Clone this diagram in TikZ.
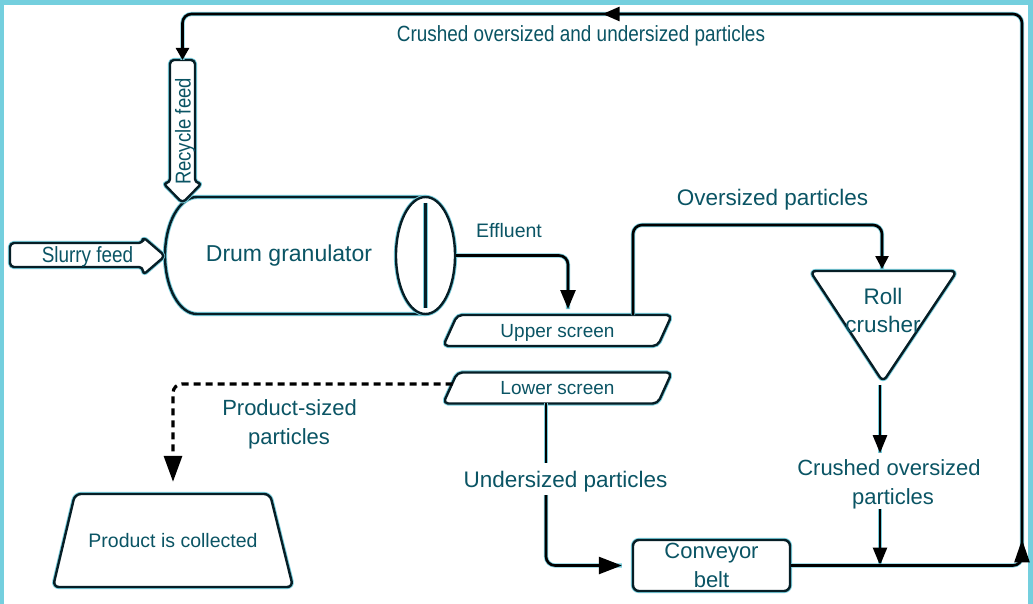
\documentclass[tikz,border=0pt]{standalone}
\usepackage{fontspec}
\setmainfont{Liberation Sans}
\newfontfamily\narrowsf{Liberation Sans}[FakeStretch=0.86]
\usetikzlibrary{arrows.meta,calc,shapes.geometric,decorations.markings}

\definecolor{framecyan}{RGB}{116,207,222}
\definecolor{ink}{RGB}{10,84,100}
\definecolor{edge}{RGB}{6,30,38}
\definecolor{halo}{RGB}{120,205,220}

\begin{document}
\begin{tikzpicture}[x=1pt,y=-1pt,
  glow/.style={preaction={draw=halo,line width=#1,line join=round,arrows=-}},
  outline/.style={draw=edge,line width=2.4pt,line join=round,glow=4.2pt},
  box/.style={outline,fill=white,rounded corners=5pt},
  flow/.style={draw=black,line width=2.6pt,rounded corners=9pt,glow=4.2pt},
  dashflow/.style={draw=black,line width=3.2pt,rounded corners=9pt,dash pattern=on 7pt off 5pt},
  lbl/.style={text=ink,inner sep=0pt,anchor=base},
  fs/.style={font=\fontsize{#1}{#1}\selectfont},
  nfs/.style={font=\narrowsf\fontsize{#1}{#1}\selectfont},
  screen/.style={box,trapezium,trapezium left angle=58.5,trapezium right angle=121.5,
    trapezium stretches=true,minimum width=229pt,minimum height=31pt,inner sep=0pt,
    text=ink,text depth=0pt,font=\fontsize{19}{19}\selectfont},
]
\useasboundingbox (0,0) rectangle (1033,604);
% frame
\fill[framecyan] (0,0) rectangle (1033,604);
\fill[white] (4,5) rectangle (1028,604);

% ---- drum granulator ----
\draw[outline] (425.5,197) -- (197,197)
  arc[start angle=90,end angle=270,x radius=32pt,y radius=58.5pt] -- (425.5,314);
\node[outline,ellipse,fill=white,minimum width=59pt,minimum height=117pt,inner sep=0pt] (drumend) at (425.5,255.5) {};
\draw[outline] ([yshift=-7pt]drumend.north) -- ([yshift=7pt]drumend.south);
\node[lbl,fs=23] (drumtxt) at (289,261) {Drum granulator};

% ---- feed arrows ----
\draw[box,rounded corners=4pt] (170,183) -- (170,60) -- (195,60) -- (195,183) -- (202,183)
  -- (182.5,203) -- (163,183) -- cycle;
\coordinate (recycle) at (182.5,60);
\node[lbl,nfs=21.5,rotate=90] (recycletxt) at (190.5,131.5) {Recycle feed};

\draw[box,rounded corners=4pt] (143,243) -- (10,243) -- (10,267) -- (143,267) -- (143,275)
  -- (165,256) -- (143,237) -- cycle;
\node[lbl,nfs=22] (slurrytxt) at (87.5,262) {Slurry feed};

% ---- screens ----
\node[screen] (upper) at (557.5,330.5) {Upper screen};
\node[screen] (lower) at (557.5,388) {Lower screen};
\coordinate (effin) at ([xshift=10.5pt,yshift=15.5pt]upper.center);
\coordinate (ovstart) at ([xshift=75.5pt,yshift=15.5pt]upper.center);
\coordinate (udrop) at ([xshift=-11.5pt,yshift=-15pt]lower.center);
\coordinate (lowerL) at ([xshift=-105pt,yshift=4pt]lower.center);

% ---- roll crusher ----
\coordinate (crTL) at (810,271);
\coordinate (crTR) at (957,271);
\coordinate (crB) at (883,382);
\coordinate (crtop) at (882,271);
\coordinate (crbot) at (880,385);
\draw[box,rounded corners=6pt] (crtop) -- (crTR) -- (crB) -- (crTL) -- cycle;
\node[lbl,fs=22.5] (roll1) at (883,304) {Roll};
\node[lbl,fs=22.5] (roll2) at (883,332) {crusher};

% ---- product (wider at the bottom) and conveyor ----
\draw[box,rounded corners=6pt] (173,494) -- (270,494) -- (293,587) -- (53,587) -- (75,494) -- cycle;
\node[inner sep=0pt,minimum width=195pt,minimum height=93pt,text=ink,text depth=0pt,fs=19.5]
  (prod) at (173,540.5) {Product is collected};
\node[box,rounded corners=6pt,minimum width=157pt,minimum height=51pt,inner sep=0pt,
  text=ink,align=center,font=\fontsize{22}{29}\selectfont] (belt) at (711.5,565.5) {Conveyor\\belt};

% ---- labels ----
\node[lbl,fs=19.5] (efftxt) at (509,237) {Effluent};
\node[lbl,fs=22.5] (ovtxt) at (772.5,205.5) {Oversized particles};
\node[lbl,fs=22] (ps1) at (289.5,415.7) {Product-sized};
\node[lbl,fs=22] (ps2) at (289,444.5) {particles};
\node[lbl,fs=22.5] (usz) at (565.5,487.3) {Undersized particles};
\node[lbl,fs=22] (crl1) at (889,475.3) {Crushed oversized};
\node[lbl,fs=22] (crl2) at (893,504) {particles};
\node[lbl,nfs=22] (looptxt) at (581,41.3) {Crushed oversized and undersized particles};

% ---- connectors ----
\draw[flow,-{Triangle[length=19pt,width=15pt]},shorten >=6pt] (drumend.east) -| (effin);
\draw[flow,-{Triangle[length=13pt,width=13pt]},shorten >=2pt] (ovstart) |- ([yshift=46pt]crtop) -- (crtop);
\draw[dashflow,-{Triangle[length=26pt,width=18pt]},shorten >=12pt] (lowerL) -| (prod.north);
\draw[flow,shorten >=8pt] (udrop) -- (udrop |- usz.north);
\draw[flow,-{Triangle[length=23pt,width=17pt]},shorten <=3pt,shorten >=10pt] (udrop |- usz.south) |- (belt.west);
\draw[flow,-{Triangle[length=18pt,width=14pt]},shorten >=6pt] (crbot) -- (crbot |- crl1.north);
\draw[flow,-{Triangle[length=18pt,width=14pt]}] (crbot |- crl2.south) -- (crbot |- belt.east);

\coordinate (loopNE) at (1022,14);
\draw[flow,-{Triangle[length=12pt,width=13pt]},
  postaction={decorate,decoration={markings,
    mark=at position 253pt with {\arrow{Triangle[length=23pt,width=15pt]}},
    mark=at position 1194pt with {\arrow{Triangle[length=17pt,width=14pt]}}}}]
  (belt.east) -| (loopNE) -| (recycle);
\end{tikzpicture}
\end{document}
